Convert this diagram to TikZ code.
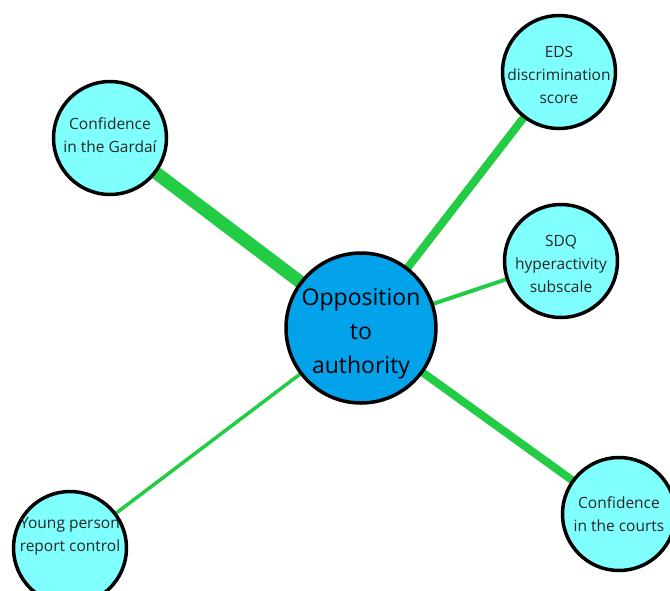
\documentclass[tikz,border=0pt]{standalone}
\usepackage{fontspec}
\setmainfont{Open Sans}
\usetikzlibrary{backgrounds}
\definecolor{hubblue}{RGB}{3,163,236}
\definecolor{leafcyan}{RGB}{128,255,255}
\definecolor{edgegreen}{RGB}{34,204,68}
\tikzstyle{hub}=[circle,draw=black,line width=3.5pt,fill=hubblue,minimum size=150pt,inner sep=0pt]
\tikzstyle{leaf}=[circle,draw=black,line width=3.5pt,fill=leafcyan,minimum size=113pt,inner sep=0pt]
\tikzstyle{hubtext}=[align=center,font=\fontsize{23}{34}\selectfont,text=black]
\tikzstyle{leaftext}=[align=center,font=\fontsize{15.5}{23}\selectfont,text=black!85]
\tikzstyle{link}=[draw=edgegreen,line cap=round]

\begin{document}
\begin{tikzpicture}[x=1pt,y=-1pt]
  \useasboundingbox (0,0) rectangle (670,590);

  \node[hub,label={[hubtext,yshift=-6pt]center:{Opposition\\to\\authority}}] (opp) at (361,328) {};
  \node[leaf,label={[leaftext,yshift=3pt]center:{Confidence\\in the Gardaí}}] (gardai) at (110,138) {};
  \node[leaf,label={[leaftext,yshift=-3pt]center:{EDS\\discrimination\\score}}] (eds) at (559,72) {};
  \node[leaf,label={[leaftext,yshift=-3pt]center:{SDQ\\hyperactivity\\subscale}}] (sdq) at (561,261) {};
  \node[leaf,label={[leaftext]center:{Confidence\\in the courts}}] (courts) at (619,514) {};
  \node[leaf,label={[leaftext,yshift=12pt]center:{Young person\\report control}}] (young) at (70,548) {};

  \begin{scope}[on background layer]
    \draw[link,line width=13pt] (opp.center) -- (gardai.center);
    \draw[link,line width=8pt] (opp.center) -- (eds.center);
    \draw[link,line width=4pt] (opp.center) -- (sdq.center);
    \draw[link,line width=8pt] (opp.center) -- (courts.center);
    \draw[link,line width=3.5pt] (opp.center) -- (young.center);
  \end{scope}
\end{tikzpicture}
\end{document}
